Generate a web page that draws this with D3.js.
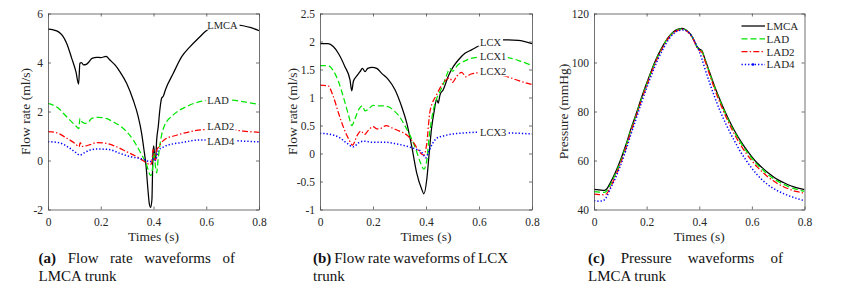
<!DOCTYPE html>
<html>
<head>
<meta charset="utf-8">
<script src="https://cdn.jsdelivr.net/npm/d3@7"></script>
<style>
  body { margin: 0; background: #fff; }
  svg { display: block; font-family: "Liberation Serif", "Times New Roman", serif; }
  .axis path, .axis line { stroke: #4d4d4d; stroke-width: 0.8; }
  .axis text { font-family: "Liberation Serif", "Times New Roman", serif; font-size: 11.5px; fill: #262626; }
  .axis-label { font-size: 13.5px; fill: #262626; }
  .series-label { font-size: 10.5px; fill: #262626; }
  .caption text { font-size: 15px; fill: #111; }
</style>
</head>
<body>
<svg id="fig" width="856" height="289"></svg>
<script>
const timeTicks = [0, 0.2, 0.4, 0.6, 0.8];
const flowTicksA = [-2, 0, 2, 4, 6];
const flowTicksB = [-1, -0.5, 0, 0.5, 1, 1.5, 2, 2.5];
const pressureTicks = [40, 60, 80, 100, 120];

const namesA = ["LMCA", "LAD", "LAD2", "LAD4"];
const namesB = ["LCX", "LCX1", "LCX2", "LCX3"];

// [time (s), flow (ml/s)]
const flowLMCA = [[0,5.36],[0.02,5.33],[0.04,5.25],[0.055,5.1],[0.071,4.78],[0.09,4.17],[0.106,3.62],[0.116,3.12],[0.121,3.97],[0.127,4.0],[0.135,3.9],[0.145,3.92],[0.155,4.02],[0.167,4.17],[0.185,4.21],[0.2,4.2],[0.22,4.25],[0.235,4.1],[0.254,3.9],[0.273,3.62],[0.298,3.15],[0.323,2.47],[0.342,1.79],[0.355,1.11],[0.364,0.43],[0.372,-0.25],[0.378,-1.07],[0.384,-1.75],[0.389,-1.91],[0.394,-1.6],[0.398,0.3],[0.401,0.6],[0.405,0.1],[0.408,0.02],[0.412,0.84],[0.418,1.38],[0.424,2.06],[0.431,2.55],[0.437,2.62],[0.445,2.88],[0.475,3.56],[0.507,4.24],[0.538,4.64],[0.576,5.05],[0.6,5.3],[0.65,5.5],[0.7,5.55],[0.74,5.5],[0.77,5.42],[0.8,5.3]];
const flowLAD = [[0,2.33],[0.027,2.22],[0.045,2.08],[0.058,1.93],[0.083,1.65],[0.105,1.42],[0.117,1.3],[0.121,1.72],[0.126,1.6],[0.14,1.52],[0.152,1.55],[0.166,1.72],[0.19,1.76],[0.22,1.72],[0.247,1.58],[0.273,1.41],[0.298,1.18],[0.323,0.84],[0.349,0.36],[0.374,-0.18],[0.389,-0.62],[0.395,-0.45],[0.4,0.15],[0.403,0.3],[0.407,-0.2],[0.412,-0.5],[0.418,0.1],[0.43,1.0],[0.44,1.38],[0.475,1.86],[0.525,2.2],[0.575,2.4],[0.6,2.45],[0.65,2.5],[0.7,2.46],[0.75,2.38],[0.8,2.29]];
const flowLAD2 = [[0,1.18],[0.03,1.14],[0.071,0.91],[0.102,0.7],[0.118,0.56],[0.122,0.73],[0.13,0.58],[0.145,0.6],[0.16,0.65],[0.185,0.73],[0.22,0.7],[0.26,0.56],[0.298,0.36],[0.336,0.16],[0.361,-0.01],[0.38,-0.14],[0.386,-0.18],[0.393,-0.1],[0.399,0.45],[0.403,0.1],[0.408,0.0],[0.412,0.4],[0.42,0.56],[0.44,0.84],[0.49,1.04],[0.54,1.18],[0.58,1.25],[0.62,1.27],[0.68,1.27],[0.74,1.2],[0.8,1.15]];
const flowLAD4 = [[0,0.77],[0.04,0.73],[0.083,0.5],[0.105,0.33],[0.121,0.22],[0.14,0.33],[0.16,0.43],[0.19,0.47],[0.23,0.45],[0.273,0.29],[0.311,0.16],[0.349,0.08],[0.37,0.02],[0.385,-0.05],[0.395,0.0],[0.402,0.08],[0.407,0.0],[0.418,0.4],[0.437,0.55],[0.475,0.68],[0.5,0.72],[0.576,0.84],[0.7,0.81],[0.8,0.76]];

const flowLCX = [[0,1.96],[0.031,1.96],[0.05,1.91],[0.069,1.79],[0.094,1.55],[0.113,1.32],[0.12,1.12],[0.126,1.29],[0.138,1.38],[0.151,1.46],[0.16,1.52],[0.17,1.46],[0.18,1.52],[0.197,1.54],[0.214,1.52],[0.233,1.43],[0.258,1.32],[0.283,1.14],[0.308,0.84],[0.327,0.55],[0.346,0.13],[0.365,-0.35],[0.384,-0.64],[0.392,-0.72],[0.403,-0.46],[0.411,-0.05],[0.421,0.45],[0.431,0.76],[0.44,0.96],[0.446,0.9],[0.453,1.05],[0.465,1.14],[0.484,1.38],[0.503,1.55],[0.522,1.67],[0.547,1.79],[0.572,1.85],[0.595,1.91],[0.64,1.98],[0.686,2.03],[0.748,2.02],[0.8,1.96]];
const flowLCX1 = [[0,1.57],[0.03,1.57],[0.05,1.48],[0.07,1.28],[0.09,0.98],[0.108,0.68],[0.12,0.5],[0.132,0.62],[0.148,0.8],[0.16,0.85],[0.17,0.76],[0.18,0.78],[0.2,0.86],[0.22,0.85],[0.24,0.85],[0.26,0.83],[0.28,0.76],[0.3,0.66],[0.32,0.5],[0.34,0.32],[0.36,0.1],[0.378,-0.15],[0.392,-0.28],[0.402,-0.15],[0.412,0.3],[0.428,0.78],[0.44,0.98],[0.45,1.08],[0.462,1.2],[0.478,1.4],[0.49,1.52],[0.5,1.47],[0.52,1.58],[0.545,1.65],[0.57,1.7],[0.6,1.72],[0.65,1.73],[0.7,1.72],[0.75,1.66],[0.8,1.57]];
const flowLCX2 = [[0,1.22],[0.03,1.21],[0.05,1.02],[0.07,0.72],[0.09,0.45],[0.108,0.26],[0.123,0.15],[0.14,0.32],[0.155,0.4],[0.168,0.34],[0.18,0.4],[0.2,0.48],[0.215,0.44],[0.23,0.45],[0.25,0.5],[0.27,0.46],[0.3,0.4],[0.33,0.32],[0.355,0.18],[0.377,0.02],[0.392,-0.03],[0.402,0.15],[0.415,0.75],[0.44,1.05],[0.465,1.26],[0.49,1.35],[0.5,1.27],[0.516,1.38],[0.535,1.45],[0.55,1.37],[0.57,1.42],[0.6,1.44],[0.65,1.42],[0.7,1.38],[0.75,1.3],[0.8,1.23]];
const flowLCX3 = [[0,0.36],[0.03,0.35],[0.075,0.28],[0.1,0.19],[0.126,0.12],[0.145,0.19],[0.165,0.22],[0.2,0.2],[0.25,0.2],[0.28,0.18],[0.327,0.13],[0.36,0.08],[0.38,0.04],[0.39,-0.02],[0.398,-0.08],[0.41,0.03],[0.425,0.18],[0.44,0.27],[0.47,0.32],[0.503,0.35],[0.55,0.37],[0.6,0.38],[0.7,0.37],[0.8,0.35]];

// [time (s), pressure (mmHg)]
const pressLMCA = [[0,48.2],[0.02,48],[0.04,47.8],[0.05,48.6],[0.06,50.5],[0.08,54.8],[0.1,60],[0.12,66],[0.14,72.8],[0.16,79],[0.18,85.5],[0.2,91.5],[0.22,97.2],[0.24,102.3],[0.26,106.5],[0.28,110],[0.3,112.4],[0.32,113.6],[0.335,113.9],[0.35,113.3],[0.365,111.8],[0.38,109.2],[0.39,106.8],[0.4,105.5],[0.41,104.8],[0.42,102],[0.44,95.8],[0.46,89.8],[0.48,84.5],[0.5,79.5],[0.52,75],[0.54,71],[0.56,67.5],[0.58,64.3],[0.6,61.5],[0.62,59],[0.64,57],[0.66,55.1],[0.68,53.5],[0.7,52.1],[0.72,51],[0.74,50],[0.76,49.2],[0.78,48.6],[0.8,48.1]];
const pressLAD = [[0,47.3],[0.02,47.1],[0.04,47],[0.05,47.8],[0.06,49.7],[0.08,54.1],[0.1,59.4],[0.12,65.5],[0.14,72.3],[0.16,78.5],[0.18,85],[0.2,91],[0.22,96.8],[0.24,102],[0.26,106.2],[0.28,109.8],[0.3,112.2],[0.32,113.4],[0.335,113.7],[0.35,113.2],[0.365,111.7],[0.38,109],[0.39,106.6],[0.4,105.3],[0.41,104.6],[0.42,101.7],[0.44,95.4],[0.46,89.4],[0.48,84],[0.5,79],[0.52,74.4],[0.54,70.4],[0.56,66.9],[0.58,63.7],[0.6,60.9],[0.62,58.4],[0.64,56.3],[0.66,54.4],[0.68,52.8],[0.7,51.4],[0.72,50.3],[0.74,49.3],[0.76,48.5],[0.78,47.9],[0.8,47.4]];
const pressLAD2 = [[0,46.3],[0.02,46.1],[0.04,46],[0.05,46.7],[0.06,48.6],[0.08,53.2],[0.1,58.6],[0.12,64.8],[0.14,71.6],[0.16,78],[0.18,84.5],[0.2,90.5],[0.22,96.3],[0.24,101.5],[0.26,105.8],[0.28,109.4],[0.3,111.9],[0.32,113.2],[0.335,113.5],[0.35,113],[0.365,111.5],[0.38,108.8],[0.39,106.4],[0.4,105],[0.41,104.2],[0.42,101.2],[0.44,94.8],[0.46,88.7],[0.48,83.2],[0.5,78.2],[0.52,73.6],[0.54,69.5],[0.56,65.9],[0.58,62.7],[0.6,59.9],[0.62,57.4],[0.64,55.3],[0.66,53.4],[0.68,51.8],[0.7,50.4],[0.72,49.3],[0.74,48.4],[0.76,47.6],[0.78,47.1],[0.8,46.6]];
const pressLAD4 = [[0,43.6],[0.02,43.4],[0.035,43.6],[0.05,45.6],[0.06,48],[0.08,52.5],[0.1,57.8],[0.12,63.8],[0.14,70.5],[0.16,77],[0.18,83.5],[0.2,89.5],[0.22,95.3],[0.24,100.6],[0.26,105],[0.28,108.8],[0.3,111.5],[0.32,113],[0.34,113.3],[0.355,112.7],[0.37,111],[0.385,108],[0.4,104.5],[0.41,101.5],[0.42,98],[0.44,91.5],[0.46,85.5],[0.48,80],[0.5,75.2],[0.52,70.8],[0.54,66.8],[0.56,63],[0.58,59.8],[0.6,56.8],[0.62,54.2],[0.64,52],[0.66,50.2],[0.68,48.7],[0.7,47.5],[0.72,46.5],[0.74,45.6],[0.76,44.9],[0.78,44.2],[0.8,43.6]];

// label anchors in data units (time, value) for the inline curve names
const labelTimeA = 0.604;
const labelValuesA = [5.53, 2.44, 1.38, 0.77];
const labelTimeB = 0.604;
const labelValuesB = [1.99, 1.74, 1.46, 0.38];

const captionA = [["(a)", "Flow", "rate", "waveforms", "of"], "LMCA trunk"];
const captionB = [["(b)", "Flow", "rate", "waveforms", "of", "LCX"], "trunk"];
const captionC = [["(c)", "Pressure", "waveforms", "of"], "LMCA trunk"];

const lineStyles = [
  { color: "#000000", dash: null },
  { color: "#00e600", dash: "6 3" },
  { color: "#ff0000", dash: "6 2.2 1.4 2.2" },
  { color: "#0000ff", dash: "1.3 2" },
];

const svg = d3.select("#fig");
const plotTop = 13.5;
const plotBottom = 209.5;
const fmt = (d) => String(d);

const panels = [
  { id: "a", left: 48, right: 259, yDomain: [-2, 6], yTicks: flowTicksA, yLabel: "Flow rate (ml/s)", yLabelX: 25,
    series: [flowLMCA, flowLAD, flowLAD2, flowLAD4], names: namesA, labelTime: labelTimeA, labelValues: labelValuesA,
    caption: captionA, captionX: [38.5, 235] },
  { id: "b", left: 320, right: 532, yDomain: [-1, 2.5], yTicks: flowTicksB, yLabel: "Flow rate (ml/s)", yLabelX: 292,
    series: [flowLCX, flowLCX1, flowLCX2, flowLCX3], names: namesB, labelTime: labelTimeB, labelValues: labelValuesB,
    caption: captionB, captionX: [313, 508] },
  { id: "c", left: 594, right: 804.5, yDomain: [40, 120], yTicks: pressureTicks, yLabel: "Pressure (mmHg)", yLabelX: 563.5,
    series: [pressLMCA, pressLAD, pressLAD2, pressLAD4], names: namesA, legend: true,
    caption: captionC, captionX: [588, 783] },
];

panels.forEach(drawPanel);

function drawPanel(cfg) {
  const x = d3.scaleLinear().domain([0, 0.8]).range([cfg.left, cfg.right]);
  const y = d3.scaleLinear().domain(cfg.yDomain).range([plotBottom, plotTop]);
  const g = svg.append("g");

  svg.append("clipPath").attr("id", `clip-${cfg.id}`)
    .append("rect")
    .attr("x", cfg.left).attr("y", plotTop)
    .attr("width", cfg.right - cfg.left).attr("height", plotBottom - plotTop);

  const lines = g.append("g").attr("clip-path", `url(#clip-${cfg.id})`);
  const line = d3.line().x((d) => x(d[0])).y((d) => y(d[1])).curve(d3.curveMonotoneX);
  cfg.series.forEach((data, i) => {
    lines.append("path")
      .attr("d", line(data))
      .attr("fill", "none")
      .attr("stroke", lineStyles[i].color)
      .attr("stroke-width", i === 3 ? 1.5 : 1.25)
      .attr("stroke-dasharray", lineStyles[i].dash)
      .attr("stroke-linejoin", "round");
  });

  g.append("g").attr("class", "axis").attr("transform", `translate(0,${plotBottom})`)
    .call(d3.axisBottom(x).tickValues(timeTicks).tickSize(-3).tickSizeOuter(0).tickPadding(8.5).tickFormat(fmt));
  g.append("g").attr("class", "axis").attr("transform", `translate(0,${plotTop})`)
    .call(d3.axisTop(x).tickValues(timeTicks).tickSize(-3).tickSizeOuter(0).tickFormat(""));
  g.append("g").attr("class", "axis").attr("transform", `translate(${cfg.left},0)`)
    .call(d3.axisLeft(y).tickValues(cfg.yTicks).tickSize(-3).tickSizeOuter(0).tickPadding(5).tickFormat(fmt));
  g.append("g").attr("class", "axis").attr("transform", `translate(${cfg.right},0)`)
    .call(d3.axisRight(y).tickValues(cfg.yTicks).tickSize(-3).tickSizeOuter(0).tickFormat(""));

  g.append("text").attr("class", "axis-label")
    .attr("x", (cfg.left + cfg.right) / 2).attr("y", 240.5)
    .attr("text-anchor", "middle").text("Times (s)");
  g.append("text").attr("class", "axis-label")
    .attr("transform", `translate(${cfg.yLabelX},${(plotTop + plotBottom) / 2}) rotate(-90)`)
    .attr("dy", "0.35em").attr("text-anchor", "middle").text(cfg.yLabel);

  if (cfg.labelValues) {
    drawCurveLabels(g, x, y, cfg);
  }
  if (cfg.legend) {
    drawLegend(g, cfg);
  }
  drawCaption(cfg.caption[0], cfg.captionX[0], cfg.captionX[1], 263);
  svg.append("g").attr("class", "caption").append("text")
    .attr("x", cfg.captionX[0]).attr("y", 281).text(cfg.caption[1]);
}

function drawCurveLabels(g, x, y, cfg) {
  cfg.names.forEach((name, i) => {
    const text = g.append("text").attr("class", "series-label")
      .attr("x", x(cfg.labelTime)).attr("y", y(cfg.labelValues[i]))
      .attr("dy", "0.35em").text(name);
    const box = text.node().getBBox();
    g.insert("rect", () => text.node())
      .attr("x", box.x - 1.5).attr("y", box.y + 1)
      .attr("width", box.width + 3).attr("height", box.height - 2)
      .attr("fill", "#fff");
  });
}

function drawLegend(g, cfg) {
  const rowY = d3.scaleLinear().domain([0, 3]).range([26, 64.5]);
  cfg.names.forEach((name, i) => {
    const yy = rowY(i);
    g.append("line")
      .attr("x1", 741.5).attr("x2", 765).attr("y1", yy).attr("y2", yy)
      .attr("stroke", lineStyles[i].color)
      .attr("stroke-width", i === 3 ? 1.3 : 1.25)
      .attr("stroke-dasharray", lineStyles[i].dash);
    if (i === 3) {
      g.append("circle").attr("cx", 753).attr("cy", yy).attr("r", 1.3).attr("fill", lineStyles[i].color);
    }
    g.append("text").attr("class", "series-label")
      .attr("x", 766.5).attr("y", yy).attr("dy", "0.35em")
      .style("font-size", "11px").text(name);
  });
}

function drawCaption(words, x0, x1, baseline) {
  const cg = svg.append("g").attr("class", "caption");
  const nodes = words.map((w, i) =>
    cg.append("text").attr("y", baseline).attr("font-weight", i === 0 ? "bold" : null).text(w));
  const widths = nodes.map((n) => n.node().getComputedTextLength());
  const gap = (x1 - x0 - d3.sum(widths)) / (words.length - 1);
  let cx = x0;
  nodes.forEach((n, i) => {
    n.attr("x", cx);
    cx += widths[i] + gap;
  });
}
</script>
</body>
</html>
